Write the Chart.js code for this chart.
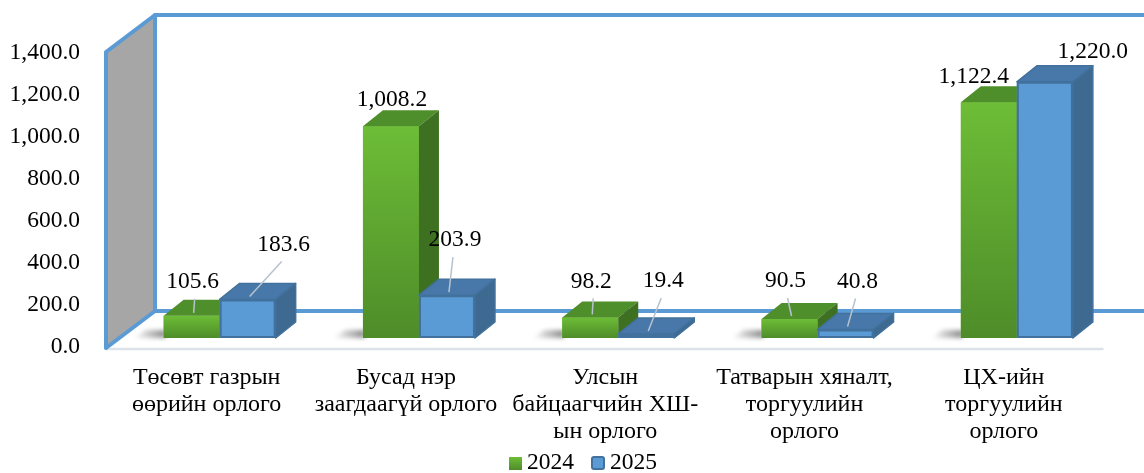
<!DOCTYPE html>
<html>
<head>
<meta charset="utf-8">
<script src="https://cdn.jsdelivr.net/npm/chart.js@4"></script>
<style>
  html, body { margin: 0; padding: 0; background: #fff; }
  #wrap { width: 1144px; height: 473px; }
</style>
</head>
<body>
<div id="wrap"><canvas id="chart"></canvas></div>
<script>
const categories = [
  ["Төсөвт газрын", "өөрийн орлого"],
  ["Бусад нэр", "заагдаагүй орлого"],
  ["Улсын", "байцаагчийн ХШ-", "ын орлого"],
  ["Татварын хяналт,", "торгуулийн", "орлого"],
  ["ЦХ-ийн", "торгуулийн", "орлого"]
];
const seriesNames = ["2024", "2025"];
const values2024 = [105.6, 1008.2, 98.2, 90.5, 1122.4];
const values2025 = [183.6, 203.9, 19.4, 40.8, 1220.0];
const yTicks = [0, 200, 400, 600, 800, 1000, 1200, 1400];

// where each value label sits, in px from the top-front centre of its bar
const labelShift = [
  [[1, -34], [1, -26], [1, -36], [-4, -38], [-15, -25]],
  [[36, -55], [8, -55], [17, -53], [12, -48], [48, -30]]
];
const hasLeader = [
  [true, false, true, true, false],
  [true, true, true, true, false]
];

const FONT = '"Liberation Serif", "Times New Roman", serif';
const DX = 20, DY = -16;          // bar depth
const WX = 49, WY = -37;          // wall depth

const look = [
  { front: ["#6dbd37", "#4e8c29"], top: "#4f8f2b", side: "#3e7021", border: null },
  { front: ["#5b9bd5", "#5b9bd5"], top: "#4778a9", side: "#3e6991", border: "#41719c" }
];

function fmt(v) {
  return v.toLocaleString("en-US", { minimumFractionDigits: 1, maximumFractionDigits: 1 });
}

function poly(ctx, pts) {
  ctx.beginPath();
  ctx.moveTo(pts[0][0], pts[0][1]);
  for (let k = 1; k < pts.length; k++) ctx.lineTo(pts[k][0], pts[k][1]);
  ctx.closePath();
}

// ### WALLS AND FLOOR ###
const wallsPlugin = {
  id: "walls",
  beforeDatasetsDraw(chart) {
    const ctx = chart.ctx;
    const a = chart.chartArea;
    const fl = a.left - 14, fr = a.right - 14;
    const fb = a.bottom + 10, ft = a.top + 8;
    ctx.save();
    ctx.lineJoin = "round";
    ctx.lineCap = "round";

    // back wall
    ctx.fillStyle = "#ffffff";
    ctx.fillRect(fl + WX, ft + WY, fr - fl, fb - ft);
    ctx.strokeStyle = "#5b9bd5";
    ctx.lineWidth = 4;
    ctx.beginPath();
    ctx.moveTo(fr + WX, ft + WY); ctx.lineTo(fl + WX, ft + WY);
    ctx.moveTo(fl + WX, fb + WY); ctx.lineTo(fr + WX, fb + WY);
    ctx.stroke();

    // floor front edge
    ctx.strokeStyle = "#dde2e8";
    ctx.lineWidth = 2.5;
    ctx.beginPath();
    ctx.moveTo(fl, fb + 1); ctx.lineTo(fr, fb + 1);
    ctx.stroke();

    // left wall
    poly(ctx, [[fl, ft], [fl + WX, ft + WY], [fl + WX, fb + WY], [fl, fb]]);
    ctx.fillStyle = "#a6a6a6";
    ctx.fill();
    ctx.strokeStyle = "#5b9bd5";
    ctx.lineWidth = 4;
    ctx.stroke();

    // soft shadows on the floor, left of each bar pair
    ctx.filter = "blur(2px)";
    chart.getDatasetMeta(0).data.forEach(bar => {
      const l = bar.x - bar.width / 2;
      const sg = ctx.createLinearGradient(l + 2, 0, l - 30, 0);
      sg.addColorStop(0, "rgba(0,0,0,0.45)");
      sg.addColorStop(1, "rgba(0,0,0,0)");
      ctx.fillStyle = sg;
      poly(ctx, [[l - 18, bar.base - 8], [l + 2, bar.base - 8], [l + 2, bar.base], [l - 30, bar.base]]);
      ctx.fill();
    });
    ctx.filter = "none";
    ctx.restore();
  },

  // ### 3D BARS ###
  afterDatasetsDraw(chart) {
    const ctx = chart.ctx;
    ctx.save();
    ctx.lineJoin = "round";
    for (let i = 0; i < categories.length; i++) {
      chart.data.datasets.forEach((ds, d) => {
        const bar = chart.getDatasetMeta(d).data[i];
        const st = look[d];
        const l = bar.x - bar.width / 2, r = bar.x + bar.width / 2;
        const y = bar.y, b = bar.base;

        const g = ctx.createLinearGradient(0, y, 0, b);
        g.addColorStop(0, st.front[0]);
        g.addColorStop(1, st.front[1]);
        ctx.fillStyle = g;
        ctx.fillRect(l, y, r - l, b - y);

        poly(ctx, [[l, y], [l + DX, y + DY], [r + DX, y + DY], [r, y]]);
        ctx.fillStyle = st.top;
        ctx.fill();
        if (st.border) { ctx.strokeStyle = st.border; ctx.lineWidth = 1.5; ctx.stroke(); }

        poly(ctx, [[r, y], [r + DX, y + DY], [r + DX, b + DY], [r, b]]);
        ctx.fillStyle = st.side;
        ctx.fill();
        if (st.border) { ctx.strokeStyle = st.border; ctx.lineWidth = 1.5; ctx.stroke(); }

        if (st.border) {
          ctx.strokeStyle = st.border;
          ctx.lineWidth = 2;
          ctx.strokeRect(l + 1, y + 1, r - l - 2, b - y - 2);
        }
      });
    }

    // value labels
    ctx.font = "23.5px " + FONT;
    ctx.textAlign = "center";
    ctx.textBaseline = "middle";
    chart.data.datasets.forEach((ds, d) => {
      chart.getDatasetMeta(d).data.forEach((bar, i) => {
        const tx = bar.x + labelShift[d][i][0];
        const ty = bar.y + labelShift[d][i][1];
        if (hasLeader[d][i]) {
          ctx.strokeStyle = "#b7c2cf";
          ctx.lineWidth = 1.5;
          ctx.beginPath();
          ctx.moveTo(tx - 2 * Math.sign(tx - bar.x - 2), ty + 17);
          ctx.lineTo(bar.x + 2, bar.y - 3);
          ctx.stroke();
        }
        ctx.fillStyle = "#000";
        ctx.fillText(fmt(ds.data[i]), tx, ty);
      });
    });

    // legend
    const y0 = chart.height - 10;
    const w1 = ctx.measureText(seriesNames[0]).width;
    const w2 = ctx.measureText(seriesNames[1]).width;
    let x = chart.width / 2 + 11 - (13 + 5 + w1 + 17 + 14 + 5 + w2) / 2;
    const lg = ctx.createLinearGradient(0, y0 - 6, 0, y0 + 7);
    lg.addColorStop(0, look[0].front[0]);
    lg.addColorStop(1, look[0].front[1]);
    ctx.fillStyle = lg;
    ctx.fillRect(x, y0 - 6, 13, 13);
    ctx.fillStyle = "#000";
    ctx.textAlign = "left";
    ctx.fillText(seriesNames[0], x + 18, y0);
    x += 18 + w1 + 17;
    ctx.beginPath();
    ctx.roundRect(x + 1, y0 - 6, 12, 12, 2);
    ctx.fillStyle = look[1].front[0];
    ctx.fill();
    ctx.strokeStyle = look[1].border;
    ctx.lineWidth = 2;
    ctx.stroke();
    ctx.fillStyle = "#000";
    ctx.fillText(seriesNames[1], x + 19, y0);
    ctx.restore();
  }
};

new Chart(document.getElementById("chart"), {
  type: "bar",
  data: {
    labels: categories,
    datasets: [
      { label: seriesNames[0], data: values2024, backgroundColor: look[0].front[0] },
      { label: seriesNames[1], data: values2025, backgroundColor: look[1].front[0] }
    ]
  },
  options: {
    responsive: true,
    maintainAspectRatio: false,
    animation: false,
    datasets: { bar: { barPercentage: 1, categoryPercentage: 0.562 } },
    layout: { padding: { top: 44, right: 27.5, bottom: 22, left: 0 } },
    plugins: { legend: { display: false }, tooltip: { enabled: false } },
    scales: {
      x: {
        grid: { display: false, drawTicks: false },
        border: { display: false },
        ticks: {
          color: "#000",
          font: { family: FONT, size: 24, lineHeight: 1.125 },
          padding: 26,
          labelOffset: -13,
          maxRotation: 0,
          autoSkip: false
        },
        afterFit(s) { s.height = 113; }
      },
      y: {
        min: 0,
        max: 1400,
        grid: { display: false, drawTicks: false },
        border: { display: false },
        afterBuildTicks(s) { s.ticks = yTicks.map(v => ({ value: v })); },
        ticks: {
          color: "#000",
          font: { family: FONT, size: 23.5 },
          padding: 40,
          labelOffset: 9,
          callback: v => fmt(v)
        },
        // tick padding is only a horizontal gap here, so drop it from the top/bottom overflow
        afterFit(s) { s.width = 120; s.paddingTop = 0; s.paddingBottom = 0; }
      }
    }
  },
  plugins: [wallsPlugin]
});
</script>
</body>
</html>
